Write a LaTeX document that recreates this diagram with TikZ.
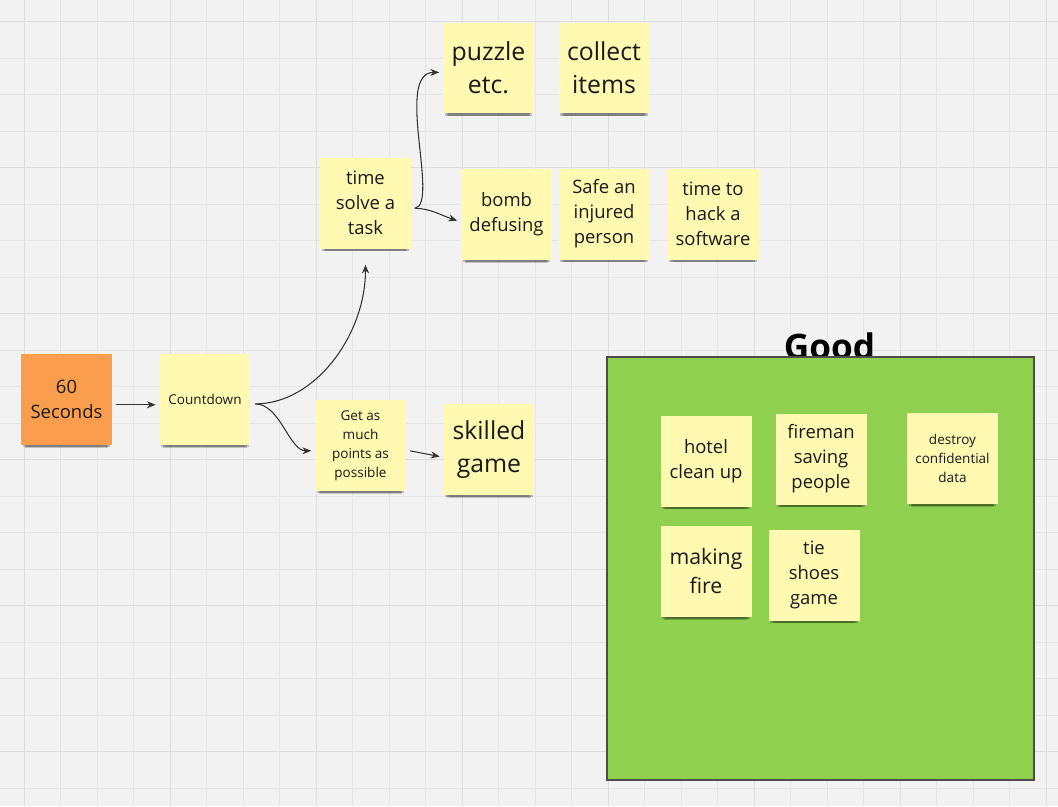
\documentclass[tikz,border=0pt]{standalone}
\usepackage{fontspec}
\setmainfont{Open Sans}
\usetikzlibrary{arrows.meta,shadows}
\definecolor{bgcol}{HTML}{F2F2F2}
\definecolor{gridminor}{HTML}{E6E6E6}
\definecolor{gridmajor}{HTML}{DEDEDE}
\definecolor{stickyyellow}{HTML}{FFF9B1}
\definecolor{orangenote}{HTML}{FA9E4E}
\definecolor{framegreen}{HTML}{8FD14F}
\definecolor{inkcol}{HTML}{1A1A1A}
\definecolor{conncol}{HTML}{333333}
\begin{document}
\begin{tikzpicture}[x=0.02cm,y=-0.02cm,
  note/.style={rectangle, fill=stickyyellow, minimum width=1.82cm, minimum height=1.82cm,
    inner sep=0pt, align=center, text=inkcol,
    general shadow={shadow xshift=0pt, shadow yshift=-5pt, shadow scale=0.88, opacity=0.15, fill=black},
    general shadow={shadow xshift=0pt, shadow yshift=-3.8pt, shadow scale=0.92, opacity=0.2, fill=black},
    general shadow={shadow xshift=0pt, shadow yshift=-2.4pt, shadow scale=0.96, opacity=0.22, fill=black}},
  fsmall/.style={font=\fontsize{7.7}{10.8}\selectfont},
  fmed/.style={font=\fontsize{10.5}{14.3}\selectfont},
  fmaking/.style={font=\fontsize{12.1}{16.5}\selectfont},
  fbig/.style={font=\fontsize{14.1}{19}\selectfont},
  conn/.style={draw=conncol, line width=0.6pt, -{Stealth[length=5pt,width=4pt]}},
  minorline/.style={draw=gridminor, line width=0.5pt},
  majorline/.style={draw=gridmajor, line width=0.5pt},
]
\useasboundingbox (0,0) rectangle (1058,806);
\fill[bgcol] (0,0) rectangle (1058,806);
% grid
\foreach \i in {0,...,28} {
  \pgfmathsetmacro\xx{24+36.5*\i}
  \draw[minorline] (\xx,0) -- (\xx,806);
}
\foreach \i in {0,...,21} {
  \pgfmathsetmacro\yy{21.5+36.5*\i}
  \draw[minorline] (0,\yy) -- (1058,\yy);
}
\foreach \i in {0,...,7} {
  \pgfmathsetmacro\xx{24+146*\i}
  \draw[majorline] (\xx,0) -- (\xx,806);
}
\foreach \i in {0,...,5} {
  \pgfmathsetmacro\yy{21.5+146*\i}
  \draw[majorline] (0,\yy) -- (1058,\yy);
}

% Good frame
\node[font=\bfseries\fontsize{20}{24}\selectfont, anchor=base, text=black] (goodtitle) at (829.5,359) {Good};
\draw[fill=framegreen, draw=black!70, line width=0.7pt] (607,357) rectangle (1034,780);

% notes
\node[note, fill=orangenote, fmed] (sec60) at (66.5,399.5) {60\\Seconds};
\node[note, fsmall] (count) at (205,399.5) {Countdown};
\node[note, fmed] (tsolve) at (365.5,203) {time\\solve a\\task};
\node[note, fbig] (puzzle) at (488.5,68) {puzzle\\etc.};
\node[note, fbig] (collect) at (604,68) {collect\\items};
\node[note, fmed] (bomb) at (506.5,214.5) {bomb\\defusing};
\node[note, fmed] (safe) at (604,214) {Safe an\\injured\\person};
\node[note, fmed] (hack) at (713,214) {time to\\hack a\\software};
\node[note, fsmall] (getmuch) at (360.5,445.5) {Get as\\much\\points as\\possible};
\node[note, fbig] (skilled) at (489,449.5) {skilled\\game};
\node[note, fmed] (hotel) at (706,461) {hotel\\clean up};
\node[note, fmed] (fireman) at (821,459) {fireman\\saving\\people};
\node[note, fsmall] (destroy) at (952.5,458.5) {destroy\\confidential\\data};
\node[note, fmaking] (making) at (706,571.5) {making\\fire};
\node[note, fmed] (tie) at (814,575) {tie\\shoes\\game};

% connectors
\draw[conn] ([xshift=2pt,yshift=-3pt]sec60.east) -- ([xshift=-2pt,yshift=-3pt]count.west);
\draw[conn] ([xshift=2.5pt,yshift=-2.5pt]count.east) .. controls +(60,0) and +(0,70) .. ([yshift=-9pt]tsolve.south);
\draw[conn] ([xshift=2.5pt,yshift=-2.5pt]count.east) .. controls +(25,0) and +(-22,0) .. ([xshift=-2pt,yshift=-3pt]getmuch.west);
\draw[conn] ([xshift=2pt,yshift=-3pt]tsolve.east) .. controls +(25,-4) and +(-45,0) .. ([xshift=-2pt,yshift=-2.5pt]puzzle.west);
\draw[conn] ([xshift=2pt,yshift=-3pt]tsolve.east) .. controls +(15,0) and +(-15,-5) .. ([xshift=-2pt,yshift=-3.5pt]bomb.west);
\draw[conn] ([xshift=2pt,yshift=-3pt]getmuch.east) -- ([xshift=-2pt,yshift=-4pt]skilled.west);
\end{tikzpicture}
\end{document}
